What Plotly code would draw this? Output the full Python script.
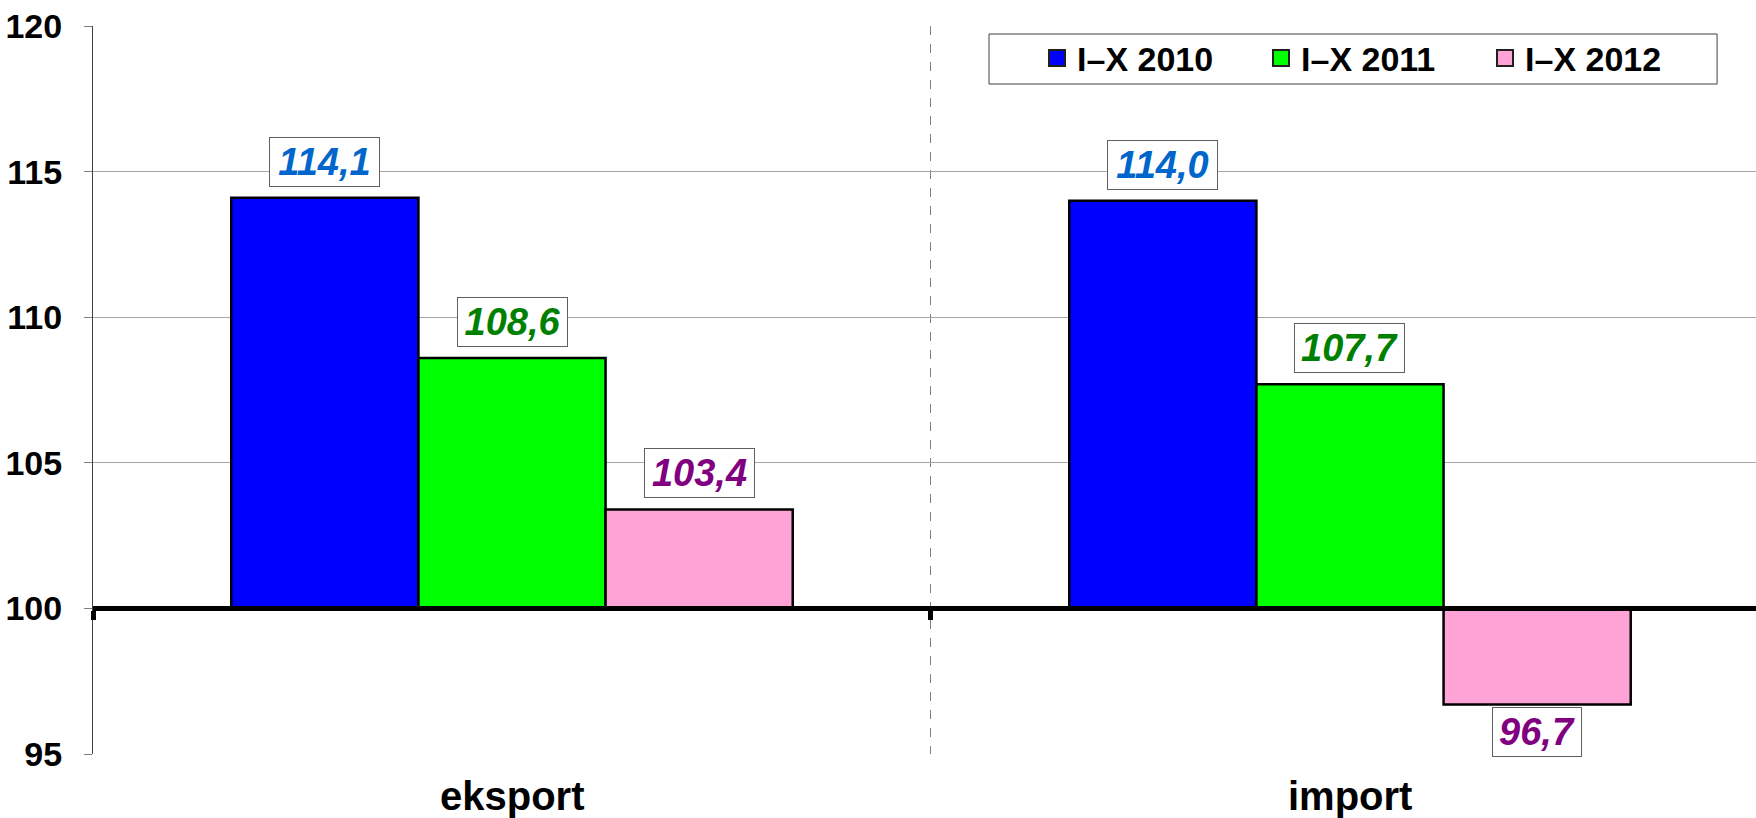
import plotly.graph_objects as go

# Index values (previous year = 100), Jan–Oct
categories = ["eksport", "import"]
series_names = ["I–X 2010", "I–X 2011", "I–X 2012"]
v2010 = [114.1, 114.0]
v2011 = [108.6, 107.7]
v2012 = [103.4, 96.7]
series_values = [v2010, v2011, v2012]

BASE = 100
y_ticks = [95, 100, 105, 110, 115, 120]

FONT = "Arial, 'Liberation Sans', sans-serif"
bar_colors = ["#0000FF", "#00FF00", "#FFA3D7"]
label_colors = ["#0066CC", "#008000", "#800080"]
BARGAP = 0.33
LABEL_SIZE = 38

# legend frame, in paper coordinates of the plot area
LEGEND_BOX = dict(x0=0.5388, x1=0.9766, y0=0.9203, y1=0.9890)


def fmt(v):
    return f"{v:.1f}".replace(".", ",")


def label_width(text, size):
    # Arial digits are 0.556 em wide, the comma 0.278 em
    digits = sum(ch.isdigit() for ch in text)
    return round(size * (0.556 * digits + 0.278)) + 8


fig = go.Figure()

for name, vals, color in zip(series_names, series_values, bar_colors):
    fig.add_trace(go.Bar(
        x=categories,
        y=[v - BASE for v in vals],
        base=BASE,
        name=name,
        marker=dict(color=color, line=dict(color="#000000", width=2.5)),
        showlegend=False,
        hovertemplate="%{x}: %{customdata}<extra>" + name + "</extra>",
        customdata=[fmt(v) for v in vals],
    ))

# legend-only entries with larger square swatches
for name, color in zip(series_names, bar_colors):
    fig.add_trace(go.Scatter(
        x=[None], y=[None], mode="markers", name=name,
        marker=dict(symbol="square", size=16, color=color,
                    line=dict(color="#202020", width=2)),
    ))

# boxed value labels above / below each bar
bar_w = (1 - BARGAP) / len(series_names)
annotations = []
for j, (vals, lc) in enumerate(zip(series_values, label_colors)):
    for i, v in enumerate(vals):
        up = v >= BASE
        txt = fmt(v)
        annotations.append(dict(
            x=i + (j - (len(series_names) - 1) / 2) * bar_w,
            y=v,
            xref="x", yref="y",
            text=txt,
            width=label_width(txt, LABEL_SIZE),
            align="center",
            showarrow=False,
            yanchor="bottom" if up else "top",
            yshift=11 if up else -2,
            font=dict(family=FONT, size=LABEL_SIZE, color=lc,
                      weight="bold", style="italic"),
            bgcolor="#FFFFFF",
            bordercolor="#606060",
            borderwidth=1,
            borderpad=3,
        ))

# category names under the plot area
for i, cat in enumerate(categories):
    annotations.append(dict(
        x=i, y=0, xref="x", yref="paper",
        text=cat, showarrow=False,
        yanchor="bottom", yshift=-66,
        font=dict(family=FONT, size=40, color="#000000", weight="bold"),
    ))

ymin, ymax = y_ticks[0], y_ticks[-1]

fig.update_layout(
    width=1756, height=818,
    margin=dict(l=93, r=0, t=26, b=64, autoexpand=False),
    paper_bgcolor="#FFFFFF",
    plot_bgcolor="#FFFFFF",
    barmode="group",
    bargap=BARGAP,
    bargroupgap=0,
    font=dict(family=FONT, color="#000000"),
    annotations=annotations,
    shapes=[dict(
        type="rect", xref="paper", yref="paper", layer="above",
        fillcolor="#FFFFFF", line=dict(color="#404040", width=1),
        **LEGEND_BOX,
    )],
    showlegend=True,
    legend=dict(
        orientation="h",
        x=LEGEND_BOX["x0"], y=0.9955, xanchor="left", yanchor="top",
        bgcolor="rgba(0,0,0,0)",
        borderwidth=0,
        font=dict(family=FONT, size=34, color="#000000", weight="bold"),
        entrywidth=131, entrywidthmode="pixels",
        itemsizing="trace",
        indentation=48,
    ),
    xaxis=dict(
        type="category",
        range=[-0.5, 1.4845],
        anchor="free",
        position=(BASE - ymin) / (ymax - ymin),
        showline=True, linecolor="#000000", linewidth=5,
        ticks="outside", tickson="boundaries",
        ticklen=9, tickwidth=5, tickcolor="#000000",
        showticklabels=False,
        showgrid=True, gridcolor="#808080", gridwidth=1, griddash="dash",
        zeroline=False,
        fixedrange=True,
    ),
    yaxis=dict(
        range=[ymin, ymax],
        tickvals=y_ticks,
        showline=True, linecolor="#404040", linewidth=1,
        ticks="outside", ticklen=8, tickwidth=1, tickcolor="#808080",
        showgrid=True, gridcolor="#A6A6A6", gridwidth=1,
        zeroline=False,
        tickfont=dict(family=FONT, size=34, color="#000000", weight="bold"),
        ticklabelstandoff=15,
        fixedrange=True,
    ),
)

fig.write_html("out.html")
